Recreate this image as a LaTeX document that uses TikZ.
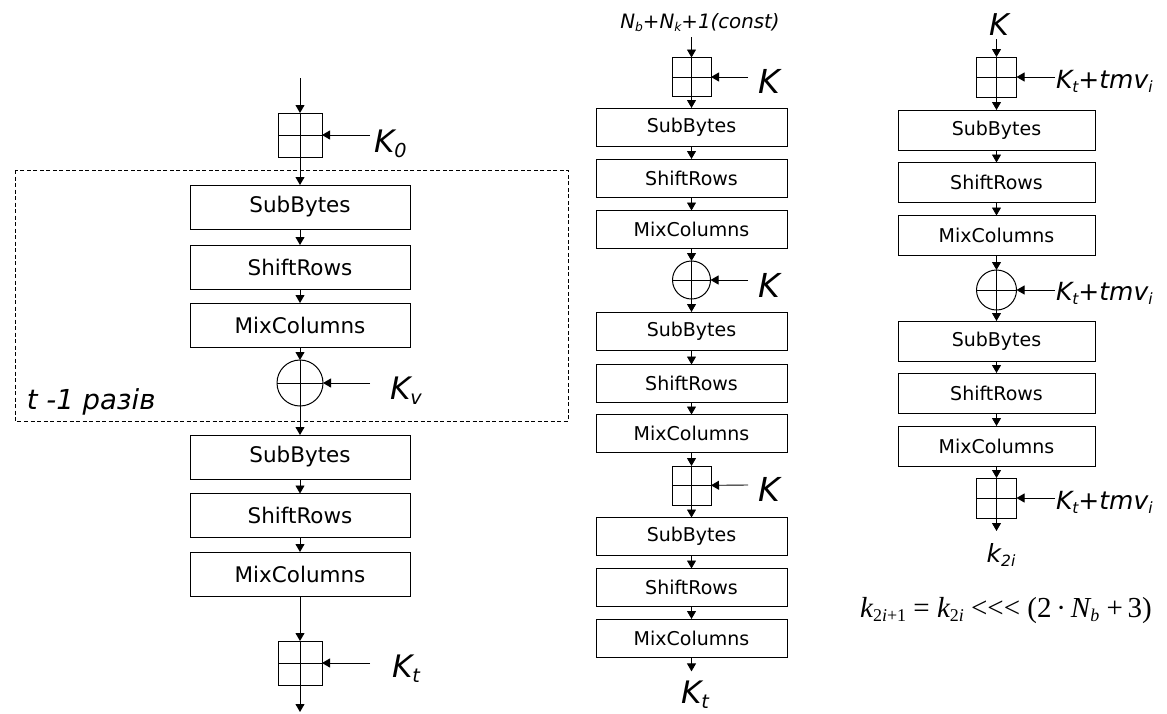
\documentclass[tikz,border=0pt]{standalone}
\usepackage{fontspec}
\usepackage{graphicx}
\setmainfont{DejaVu Sans}
\newfontfamily\tms{Liberation Serif}
\usetikzlibrary{arrows.meta}
\newcommand\dn[1]{\raisebox{-0.3ex}{\scalebox{0.62}{#1}}}
\newcommand\fsz[1]{\fontsize{#1}{#1}\selectfont}
\begin{document}
\begin{tikzpicture}[x=1pt,y=-1pt,
  every node/.style={inner sep=0pt, outer sep=0pt},
  flow/.style={-{Triangle[length=8pt,width=9pt]}, line width=0.9pt},
  opL/.style={draw, line width=1pt, minimum width=220pt, minimum height=44pt, font=\fsz{21.5}},
  opM/.style={draw, line width=1pt, minimum width=191pt, minimum height=38pt, font=\fsz{19}},
  opR/.style={draw, line width=1pt, minimum width=197pt, minimum height=40pt, font=\fsz{19}},
  xsq/.style={draw, line width=1pt, minimum size=#1, path picture={\draw[line width=1pt] (path picture bounding box.north)--(path picture bounding box.south) (path picture bounding box.west)--(path picture bounding box.east);}},
  xc/.style={circle, draw, line width=1pt, minimum size=#1, path picture={\draw[line width=1pt] (path picture bounding box.north)--(path picture bounding box.south) (path picture bounding box.west)--(path picture bounding box.east);}},
  labL/.style={font=\fsz{31}\itshape, anchor=base west},
  labM/.style={font=\fsz{33}\itshape, anchor=base west},
  labR/.style={font=\fsz{25}\itshape, anchor=base west},
]
\fill[white] (0,0) rectangle (1167,713);
\useasboundingbox (0,0) rectangle (1167,713);

% ---------------- left column ----------------
\coordinate (lin) at (300,78);
\node[xsq=44pt] (lsq0) at (300,135) {};
\coordinate (lk0s) at (370,135);
\node[labL] (lk0) at (374,152) {K\dn{0}};
\node[opL] (lsb1) at (300,207) {SubBytes};
\node[opL] (lsr1) at (300,267) {ShiftRows};
\node[opL] (lmc1) at (300,325) {MixColumns};
\node[xc=46pt] (lx1) at (300,383) {};
\coordinate (lkvs) at (370,383);
\node[labL] (lkv) at (390,399) {K\dn{v}};
\draw[line width=0.8pt, dash pattern=on 4pt off 2.5pt] (15,170) rectangle (568,421);
\node[font=\fsz{27.5}\itshape, anchor=base west] (lrep) at (27,409) {t -1 разів};
\node[opL] (lsb2) at (300,457) {SubBytes};
\node[opL] (lsr2) at (300,515.5) {ShiftRows};
\node[opL] (lmc2) at (300,574) {MixColumns};
\node[xsq=44pt] (lsq1) at (300,663) {};
\coordinate (lkts) at (370,663);
\node[labL] (lkt) at (392,677) {K\dn{t}};
\coordinate (lout) at (300,712);

\draw[flow] (lin) -- (lsq0);
\draw[flow] (lk0s) -- (lsq0);
\draw[flow] (lsq0) -- (lsb1);
\draw[flow] (lsb1) -- (lsr1);
\draw[flow] (lsr1) -- (lmc1);
\draw[flow] (lmc1) -- (lx1);
\draw[flow] (lkvs) -- (lx1);
\draw[flow] (lx1) -- (lsb2);
\draw[flow] (lsb2) -- (lsr2);
\draw[flow] (lsr2) -- (lmc2);
\draw[flow] (lmc2) -- (lsq1);
\draw[flow] (lkts) -- (lsq1);
\draw[flow] (lsq1) -- (lout);

% ---------------- middle column ----------------
\node[font=\fsz{19.8}\itshape, anchor=base] (mtitle) at (700,28) {N\dn{b}+N\dn{k}+1(const)};
\coordinate (min) at (691.5,37);
\node[xsq=39pt] (msq1) at (691.5,77) {};
\coordinate (mk1s) at (748,77);
\node[labM] (mk1) at (758,93) {K};
\node[opM] (msb1) at (691.5,127) {SubBytes};
\node[opM] (msr1) at (691.5,178) {ShiftRows};
\node[opM] (mmc1) at (691.5,229.5) {MixColumns};
\node[xc=38pt] (mx1) at (691.5,280) {};
\coordinate (mk2s) at (748,280);
\node[labM] (mk2) at (758,297) {K};
\node[opM] (msb2) at (691.5,331) {SubBytes};
\node[opM] (msr2) at (691.5,383.5) {ShiftRows};
\node[opM] (mmc2) at (691.5,433.5) {MixColumns};
\node[xsq=39pt] (msq2) at (691.5,485.5) {};
\coordinate (mk3s) at (748,485);
\node[labM] (mk3) at (758,501) {K};
\node[opM] (msb3) at (691.5,536.5) {SubBytes};
\node[opM] (msr3) at (691.5,587.5) {ShiftRows};
\node[opM] (mmc3) at (691.5,638) {MixColumns};
\node[font=\fsz{31}\itshape, anchor=base] (mkt) at (695,703) {K\dn{t}};

\draw[flow] (min) -- (msq1);
\draw[flow] (mk1s) -- (msq1);
\draw[flow] (msq1) -- (msb1);
\draw[flow] (msb1) -- (msr1);
\draw[flow] (msr1) -- (mmc1);
\draw[flow] (mmc1) -- (mx1);
\draw[flow] (mk2s) -- (mx1);
\draw[flow] (mx1) -- (msb2);
\draw[flow] (msb2) -- (msr2);
\draw[flow] (msr2) -- (mmc2);
\draw[flow] (mmc2) -- (msq2);
\draw[flow] (mk3s) -- (msq2);
\draw[flow] (msq2) -- (msb3);
\draw[flow] (msb3) -- (msr3);
\draw[flow] (msr3) -- (mmc3);
\draw[flow] (mmc3.south) -- ([yshift=9pt]mkt.north -| mmc3.south);

% ---------------- right column ----------------
\node[font=\fsz{30}\itshape, anchor=base] (rk) at (999,35) {K};
\node[xsq=40pt] (rsq1) at (996.5,77) {};
\coordinate (rk1s) at (1055,77);
\node[labR] (rk1) at (1056,88) {K\dn{t}+tmv\dn{i}};
\node[opR] (rsb1) at (996.5,130) {SubBytes};
\node[opR] (rsr1) at (996.5,182.5) {ShiftRows};
\node[opR] (rmc1) at (996.5,235.5) {MixColumns};
\node[xc=40pt] (rx1) at (996.5,290) {};
\coordinate (rk2s) at (1055,290);
\node[labR] (rk2) at (1056,300) {K\dn{t}+tmv\dn{i}};
\node[opR] (rsb2) at (996.5,341) {SubBytes};
\node[opR] (rsr2) at (996.5,393) {ShiftRows};
\node[opR] (rmc2) at (996.5,446) {MixColumns};
\node[xsq=40pt] (rsq2) at (996.5,498) {};
\coordinate (rk3s) at (1055,498);
\node[labR] (rk3) at (1056,509) {K\dn{t}+tmv\dn{i}};
\node[font=\fsz{25}\itshape, anchor=base] (rk2i) at (1001,562) {k\dn{2i}};
\node[font=\tms\fsz{29}, anchor=base] (rform) at (1006,617)
  {\itshape k\dn{\upshape 2\itshape i\upshape +1}\upshape\ =\ \itshape k\dn{\upshape 2\itshape i}\upshape\ <<<\ (2\,·\,\itshape N\dn{b}\upshape\ +\,3)};

\draw[flow] ([yshift=-4pt]rk.south -| rsq1.north) -- (rsq1);
\draw[flow] (rk1s) -- (rsq1);
\draw[flow] (rsq1) -- (rsb1);
\draw[flow] (rsb1) -- (rsr1);
\draw[flow] (rsr1) -- (rmc1);
\draw[flow] (rmc1) -- (rx1);
\draw[flow] (rk2s) -- (rx1);
\draw[flow] (rx1) -- (rsb2);
\draw[flow] (rsb2) -- (rsr2);
\draw[flow] (rsr2) -- (rmc2);
\draw[flow] (rmc2) -- (rsq2);
\draw[flow] (rk3s) -- (rsq2);
\draw[flow] (rsq2.south) -- ([yshift=12pt]rk2i.north -| rsq2.south);
\end{tikzpicture}
\end{document}
